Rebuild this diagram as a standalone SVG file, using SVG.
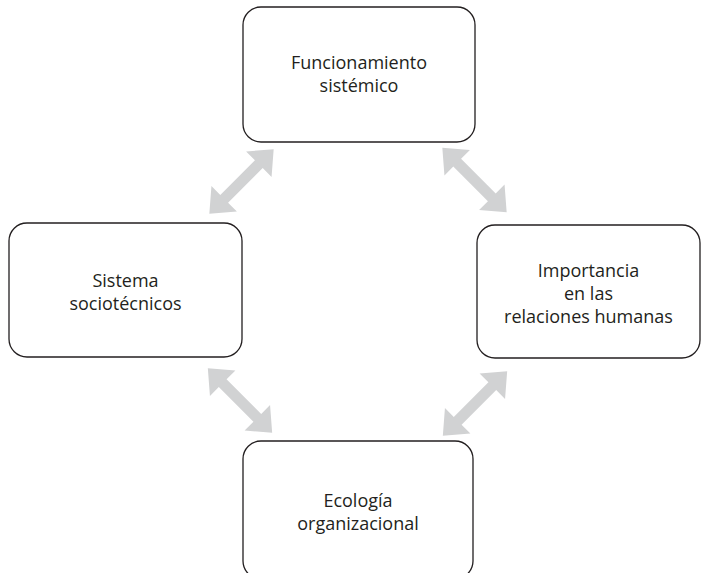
<svg xmlns="http://www.w3.org/2000/svg" width="703" height="573" viewBox="0 0 703 573">
<style>
.box{fill:#fff;stroke:#231f20;stroke-width:1.3}
.t{font-family:"Open Sans","Liberation Sans",sans-serif;font-size:18px;fill:#231f20;text-anchor:middle}
.arr{fill:#d1d2d3}
</style>
<defs>
<path id="dbl" d="M-45.5,0 L-24.5,-18 L-24.5,-5.5 L24.5,-5.5 L24.5,-18 L45.5,0 L24.5,18 L24.5,5.5 L-24.5,5.5 L-24.5,18 Z"/>
</defs>
<rect width="703" height="573" fill="#fff"/>
<g id="connectors">
<use href="#dbl" class="arr" transform="translate(241.5,181.5) rotate(-45)"/>
<use href="#dbl" class="arr" transform="translate(474.5,180) rotate(45)"/>
<use href="#dbl" class="arr" transform="translate(240,400.5) rotate(45)"/>
<use href="#dbl" class="arr" transform="translate(475,403.5) rotate(-45)"/>
</g>
<g id="n-funcionamiento">
<rect class="box" x="243" y="7" width="232" height="135" rx="18"/>
<text class="t" x="359" y="69">Funcionamiento</text>
<text class="t" x="359" y="92">sistémico</text>
</g>
<g id="n-sistema">
<rect class="box" x="9" y="223" width="233" height="134" rx="18"/>
<text class="t" x="125.5" y="287">Sistema</text>
<text class="t" x="125.5" y="310">sociotécnicos</text>
</g>
<g id="n-importancia">
<rect class="box" x="477" y="225" width="223" height="133" rx="18"/>
<text class="t" x="588.5" y="277">Importancia</text>
<text class="t" x="588.5" y="300">en las</text>
<text class="t" x="588.5" y="323">relaciones humanas</text>
</g>
<g id="n-ecologia">
<rect class="box" x="243" y="441" width="230" height="138" rx="18"/>
<text class="t" x="358" y="507">Ecología</text>
<text class="t" x="358" y="530">organizacional</text>
</g>
</svg>
